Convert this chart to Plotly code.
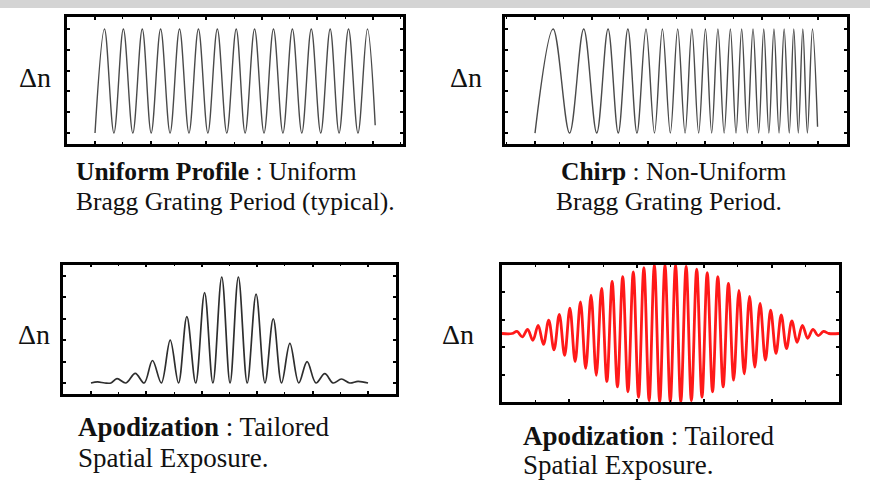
import plotly.graph_objects as go

W, H = 870, 483

# ---------------- data (extrema of the index modulation) ----
# Panel 1: uniform profile
uniform_x = [0.0, 0.17, 0.34, 0.51, 0.68, 0.85, 1.01, 1.18, 1.35, 1.52, 1.69,
             1.86, 2.03, 2.20, 2.37, 2.54, 2.70, 2.87, 3.04, 3.21, 3.38, 3.55,
             3.72, 3.89, 4.06, 4.23, 4.39, 4.56, 4.73, 4.90, 5.04]
uniform_dn = [-1, 1, -1, 1, -1, 1, -1, 1, -1, 1, -1, 1, -1, 1, -1, 1, -1, 1,
              -1, 1, -1, 1, -1, 1, -1, 1, -1, 1, -1, 1, -0.85]

# Panel 2: chirp
chirp_x = [0.00, 0.32, 0.61, 0.86, 1.09, 1.29, 1.47, 1.64, 1.80, 1.96, 2.11,
           2.25, 2.39, 2.52, 2.65, 2.77, 2.89, 3.01, 3.12, 3.23, 3.34, 3.45,
           3.55, 3.65, 3.75, 3.85, 3.95, 4.04, 4.13, 4.22, 4.31, 4.40, 4.49,
           4.57, 4.65, 4.73, 4.81, 4.90, 4.99]
chirp_dn = [-1, 1, -1, 1, -1, 1, -1, 1, -1, 1, -1, 1, -1, 1, -1, 1, -1, 1, -1,
            1, -1, 1, -1, 1, -1, 1, -1, 1, -1, 1, -1, 1, -1, 1, -1, 1, -1, 1,
            -0.88]

# Panel 3: apodization (positive modulation)
apod_x = [0.0, 0.12, 0.25, 0.36, 0.47, 0.63, 0.80, 0.96, 1.11, 1.27, 1.43,
          1.58, 1.73, 1.89, 2.05, 2.20, 2.36, 2.51, 2.66, 2.82, 2.98, 3.14,
          3.29, 3.44, 3.59, 3.75, 3.90, 4.06, 4.22, 4.37, 4.52, 4.67, 4.82, 5.0]
apod_dn = [0, 0.01, 0, 0, 0.04, 0, 0.09, 0, 0.21, 0, 0.40, 0, 0.62, 0, 0.845,
           0, 0.99, 0, 0.99, 0, 0.83, 0, 0.60, 0, 0.37, 0, 0.20, 0, 0.087, 0,
           0.037, 0, 0.015, 0]

# Panel 4: apodization (symmetric, red)
apod2_x = [0.0, 0.15, 0.223, 0.301, 0.380, 0.458, 0.537, 0.615, 0.693, 0.772,
           0.850, 0.929, 1.007, 1.085, 1.164, 1.242, 1.321, 1.399, 1.477,
           1.556, 1.634, 1.713, 1.791, 1.869, 1.948, 2.026, 2.105, 2.183,
           2.261, 2.340, 2.418, 2.497, 2.575, 2.653, 2.732, 2.810, 2.889,
           2.967, 3.045, 3.124, 3.202, 3.281, 3.359, 3.437, 3.516, 3.594,
           3.673, 3.751, 3.829, 3.908, 3.986, 4.065, 4.143, 4.221, 4.300,
           4.378, 4.457, 4.535, 4.613, 4.692, 4.770, 4.85, 5.0]
apod2_dn = [0, 0, 0.03, -0.05, 0.06, -0.10, 0.12, -0.16, 0.195, -0.24, 0.28,
            -0.32, 0.37, -0.41, 0.46, -0.51, 0.56, -0.61, 0.66, -0.70, 0.76,
            -0.78, 0.83, -0.85, 0.90, -0.93, 0.96, -0.98, 1.0, -1.0, 1.0,
            -1.0, 1.0, -1.0, 0.98, -0.98, 0.94, -0.93, 0.89, -0.85, 0.83,
            -0.78, 0.73, -0.68, 0.63, -0.59, 0.54, -0.49, 0.44, -0.39, 0.34,
            -0.29, 0.27, -0.22, 0.185, -0.13, 0.12, -0.07, 0.06, -0.03, 0.03,
            0, 0]

# Axis settings
x_ranges = [[-0.504, 5.54], [-0.53, 5.51], [-0.505, 5.505], [0, 5]]
y_ranges = [[-1.21, 1.23], [-1.21, 1.23], [-0.103, 1.107], [-1, 1]]
y_tickvals = [[-1, -0.6, -0.2, 0.2, 0.6, 1], [-1, -0.6, -0.2, 0.2, 0.6, 1],
              [0, 0.2, 0.4, 0.6, 0.8, 1], [-1, -0.6, -0.2, 0.2, 0.6, 1]]
x_tickvals = [0, 1, 2, 3, 4, 5]

# Boxes in pixels (left, right, top, bottom)
boxes = [(67, 403, 17, 144), (505, 847, 17, 144),
         (63, 396, 264.5, 394), (502, 839, 265, 402)]

fig = go.Figure()
series = [(uniform_x, uniform_dn, "#4a4a4a", 1.4),
          (chirp_x, chirp_dn, "#4a4a4a", 1.4),
          (apod_x, apod_dn, "#2e2e2e", 1.7),
          (apod2_x, apod2_dn, "rgb(255,25,25)", 2.8)]
for i, (xs, ys, col, lw) in enumerate(series):
    sfx = "" if i == 0 else str(i + 1)
    fig.add_trace(go.Scatter(x=xs, y=ys, mode="lines",
                             line=dict(color=col, width=lw, shape="spline",
                                       smoothing=1.0),
                             xaxis="x" + sfx, yaxis="y" + sfx,
                             hoverinfo="skip", showlegend=False))

layout = dict(width=W, height=H, margin=dict(l=0, r=0, t=0, b=0),
              paper_bgcolor="white", plot_bgcolor="white", showlegend=False)
for i, (l, r, t, b) in enumerate(boxes):
    sfx = "" if i == 0 else str(i + 1)
    common = dict(showline=True, linecolor="black", linewidth=2.5,
                  mirror="allticks", ticks="inside", tickcolor="black",
                  ticklen=3, tickwidth=2, showticklabels=False,
                  showgrid=False, zeroline=False, fixedrange=True)
    layout["xaxis" + sfx] = dict(
        domain=[l / W, r / W], range=x_ranges[i], tickvals=x_tickvals,
        anchor="y" + sfx,
        minor=dict(ticks="inside", dtick=0.5, ticklen=2, tickwidth=1.2,
                   tickcolor="black", showgrid=False),
        **common)
    layout["yaxis" + sfx] = dict(
        domain=[1 - b / H, 1 - t / H], range=y_ranges[i],
        tickvals=y_tickvals[i], anchor="x" + sfx, **common)

serif = "Liberation Serif, Times New Roman, serif"
ann = []


def add_text(text, xpx, ypx, size, xanchor="left"):
    ann.append(dict(text=text, x=xpx / W, y=1 - ypx / H, xref="paper",
                    yref="paper", xanchor=xanchor, yanchor="middle",
                    showarrow=False, font=dict(family=serif, size=size,
                                               color="#111111")))


# Δn labels
add_text("Δn", 17, 77, 28)
add_text("Δn", 448, 77, 28)
add_text("Δn", 16, 334, 28)
add_text("Δn", 440, 334, 28)

# Captions
add_text("<b>Uniform Profile</b> : Uniform", 74, 172, 25.5)
add_text("Bragg Grating Period (typical).", 74, 201, 25.5)
add_text("<b>Chirp</b> : Non-Uniform", 673.5, 172, 25.5, "center")
add_text("Bragg Grating Period.", 669, 201, 25.5, "center")
add_text("<b>Apodization</b> : Tailored", 76, 427, 27)
add_text("Spatial Exposure.", 76, 458, 27)
add_text("<b>Apodization</b> : Tailored", 521, 436, 27)
add_text("Spatial Exposure.", 521, 465, 27)

layout["annotations"] = ann
layout["shapes"] = [dict(type="rect", xref="paper", yref="paper", x0=0, x1=1,
                         y0=1 - 8 / H, y1=1, fillcolor="#d4d4d4",
                         line=dict(width=0), layer="below")]
fig.update_layout(**layout)
fig.write_html("out.html")
